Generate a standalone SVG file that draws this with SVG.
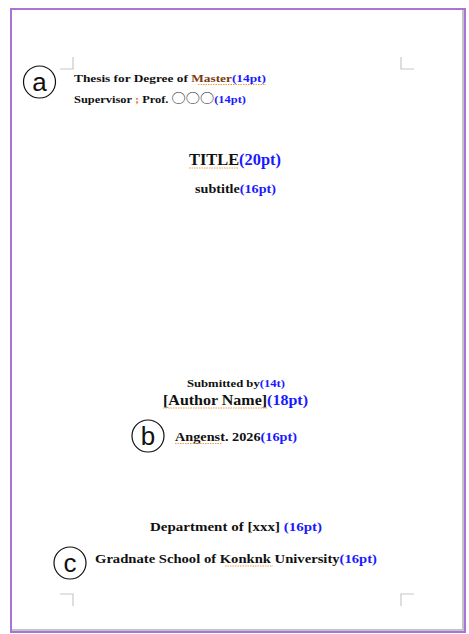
<svg xmlns="http://www.w3.org/2000/svg" width="469" height="634" viewBox="0 0 469 634">
<style>
.t{font-family:"Liberation Serif","DejaVu Serif",serif;font-weight:bold;fill:#111}
.b{fill:#1a1aff}
.o{fill:#e07020}
.cj{font-family:"Noto Sans CJK KR","Noto Sans CJK SC",sans-serif;font-weight:normal;fill:#222}
.circ{fill:none;stroke:#111;stroke-width:1.2}
.lbl{font-family:"Liberation Sans",Arial,sans-serif;font-size:26px;fill:#111;text-anchor:middle}
.crn{fill:none;stroke:#c8c8c8;stroke-width:1.2}
.sq{fill:none;stroke:#f0a040;stroke-width:1;stroke-dasharray:1.5 1}
</style>
<rect x="0" y="0" width="469" height="634" fill="#ffffff"/>
<g id="page">
<line x1="463" y1="10" x2="463" y2="631" stroke="#c4c4c4" stroke-width="2"/>
<line x1="12" y1="630" x2="464" y2="630" stroke="#c4c4c4" stroke-width="2"/>
<rect x="11" y="9" width="454" height="623" fill="none" stroke="#a874d6" stroke-width="2"/>
<path class="crn" d="M60,69 H73 V57 M401,57 V69 H414 M60,594 H73 V606 M414,594 H401 V606"/>
</g>
<g id="marker-a">
<circle class="circ" cx="39.5" cy="82" r="16"/>
<text class="lbl" x="39.5" y="91">a</text>
</g>
<g id="marker-b">
<circle class="circ" cx="148" cy="436" r="16"/>
<text class="lbl" x="148" y="445">b</text>
</g>
<g id="marker-c">
<circle class="circ" cx="70" cy="563" r="16"/>
<text class="lbl" x="70" y="572">c</text>
</g>
<g id="header">
<text class="t" x="74" y="82" font-size="10.5" textLength="192" lengthAdjust="spacingAndGlyphs">Thesis for Degree of <tspan fill="#7a3a10">Master</tspan><tspan class="b">(14pt)</tspan></text>
<line class="sq" x1="198" y1="84.5" x2="266" y2="84.5"/>
<text class="t" x="74" y="103" font-size="10.5" textLength="172" lengthAdjust="spacingAndGlyphs">Supervisor <tspan class="o">;</tspan> Prof. <tspan class="cj" font-size="12">○○○</tspan><tspan class="b">(14pt)</tspan></text>
</g>
<g id="title">
<text class="t" x="189" y="165" font-size="16.4">TITLE<tspan class="b">(20pt)</tspan></text>
<line class="sq" x1="189" y1="168" x2="238" y2="168"/>
<text class="t" x="195" y="193" font-size="13.5" textLength="81" lengthAdjust="spacingAndGlyphs">subtitle<tspan class="b">(16pt)</tspan></text>
</g>
<g id="author">
<text class="t" x="187" y="387" font-size="10" font-weight="normal" textLength="98" lengthAdjust="spacingAndGlyphs">Submitted by<tspan class="b">(14t)</tspan></text>
<text class="t" x="163" y="405" font-size="15" textLength="145" lengthAdjust="spacingAndGlyphs">[Author Name]<tspan class="b">(18pt)</tspan></text>
<line class="sq" x1="163" y1="408" x2="268" y2="408"/>
<text class="t" x="175" y="441" font-size="12.5" textLength="122" lengthAdjust="spacingAndGlyphs">Angenst. 2026<tspan class="b">(16pt)</tspan></text>
<line class="sq" x1="175" y1="443.5" x2="222" y2="443.5"/>
</g>
<g id="school">
<text class="t" x="150" y="531" font-size="12.5" textLength="172" lengthAdjust="spacingAndGlyphs">Department of [xxx] <tspan class="b">(16pt)</tspan></text>
<text class="t" x="95" y="563" font-size="12.5" textLength="282" lengthAdjust="spacingAndGlyphs">Gradnate School of Konknk University<tspan class="b">(16pt)</tspan></text>
<line class="sq" x1="225" y1="566" x2="273" y2="566"/>
</g>
</svg>
